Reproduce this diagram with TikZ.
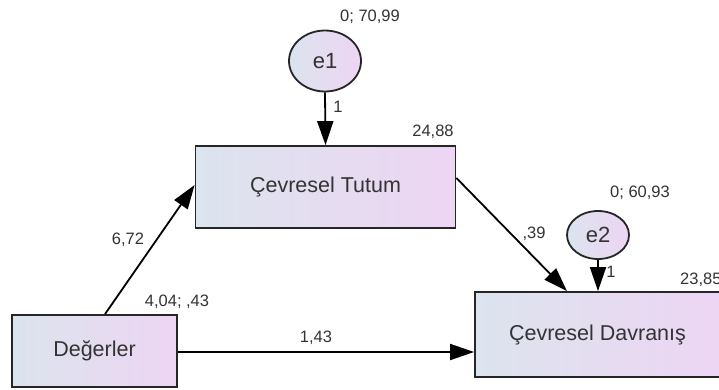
\documentclass[tikz,border=0pt]{standalone}
\usepackage{fontspec}
\setmainfont{Liberation Sans}
\usetikzlibrary{arrows.meta,shapes.geometric}
\definecolor{leftc}{HTML}{DCE4EE}
\definecolor{rightc}{HTML}{EDD5F3}
\definecolor{txt}{HTML}{333333}
\tikzset{
  var/.style={draw=black!85, line width=1.8pt, rectangle, inner sep=0pt,
    left color=leftc, right color=rightc, text=txt,
    font=\fontsize{21.5}{24}\selectfont},
  err/.style={draw=black!85, line width=1.8pt, ellipse, inner sep=0pt,
    left color=leftc, right color=rightc, text=txt,
    font=\fontsize{22}{24}\selectfont},
  lab/.style={text=txt, font=\fontsize{16.5}{18}\selectfont, inner sep=0pt},
  arr/.style={draw=black, line width=1.8pt, -{Triangle[length=24pt,width=16pt]}},
}
\begin{document}
\begin{tikzpicture}[x=1pt,y=1pt]
\useasboundingbox (0,0) rectangle (719,-389);
\clip (0,0) rectangle (719,-389);
% nodes
\node[err, minimum width=72pt, minimum height=61pt] (e1) at (325,-61) {e1};
\node[err, minimum width=62pt, minimum height=48pt] (e2) at (598,-235) {e2};
\node[var, minimum width=260pt, minimum height=82pt] (t) at (325.5,-187) {Çevresel Tutum};
\node[var, minimum width=165pt, minimum height=72pt] (d) at (94.5,-351) {Değerler};
\node[var, minimum width=245pt, minimum height=85pt] (dv) at (597.5,-334.5) {Çevresel Davranış};
% labels
\node[lab] (l1) at (370,-17) {0; 70,99};
\node[lab] (l2) at (338,-107) {1};
\node[lab] (l3) at (433,-132) {24,88};
\node[lab] (l4) at (128,-240) {6,72};
\node[lab] (l5) at (177,-302) {4,04; ,43};
\node[lab] (l6) at (316,-338) {1,43};
\node[lab] (l7) at (534,-234) {,39};
\node[lab] (l8) at (640,-193) {0; 60,93};
\node[lab] (l9) at (611,-272) {1};
\node[lab, anchor=west] (l10) at (680,-280) {23,85};
% connectors
\draw[arr] (e1.south) -- (t.north);
\draw[arr] (e2.south) -- (dv.north -| e2.south);
\draw[arr] ([xshift=10.5pt]d.north) -- ([yshift=2pt]t.west);
\draw[arr] ([yshift=9pt]t.east) -- ([xshift=-30.5pt]dv.north);
\draw[arr] ([yshift=-1pt]d.east) -- ([yshift=-1pt]d.east -| dv.west);
\end{tikzpicture}
\end{document}
